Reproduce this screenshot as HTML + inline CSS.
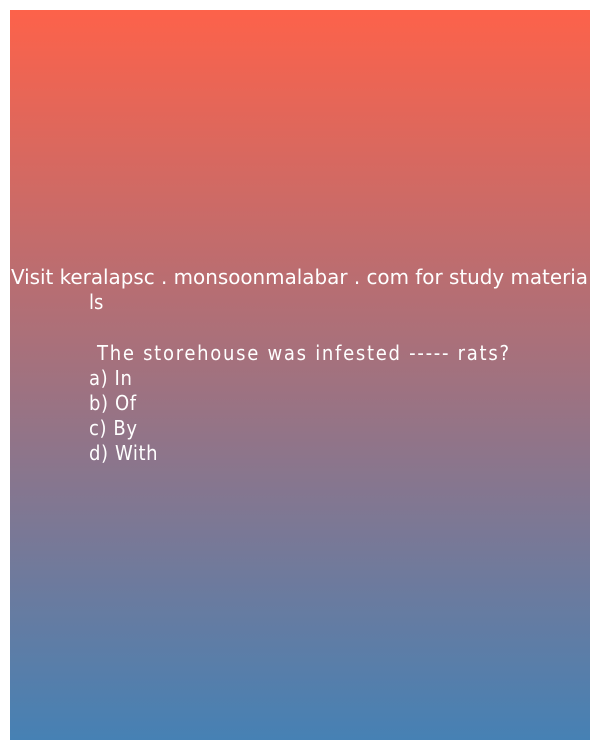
<!DOCTYPE html>
<html><head><meta charset="utf-8">
<style>
html,body{margin:0;padding:0;background:#fff;width:600px;height:750px;overflow:hidden}
svg{display:block}
text{font-family:"DejaVu Sans Condensed","DejaVu Sans","Liberation Sans",sans-serif;font-size:20px;fill:#fff}
.opt{letter-spacing:0.6px}
</style></head>
<body>
<svg width="600" height="750">
<defs>
<linearGradient id="g" x1="0" y1="0" x2="0" y2="1">
<stop offset="0" stop-color="#fd624a"/>
<stop offset="1" stop-color="#4681b4"/>
</linearGradient>
</defs>
<rect x="10" y="10" width="580" height="730" fill="url(#g)"/>
<text x="11" y="284" textLength="577" lengthAdjust="spacingAndGlyphs">Visit keralapsc . monsoonmalabar . com for study materia</text>
<text x="89" y="309">ls</text>
<text x="97" y="360" textLength="412" lengthAdjust="spacing">The storehouse was infested ----- rats?</text>
<text class="opt" x="89" y="385">a) In</text>
<text class="opt" x="89" y="410">b) Of</text>
<text class="opt" x="89" y="435">c) By</text>
<text class="opt" x="89" y="460">d) With</text>
</svg>
</body></html>
